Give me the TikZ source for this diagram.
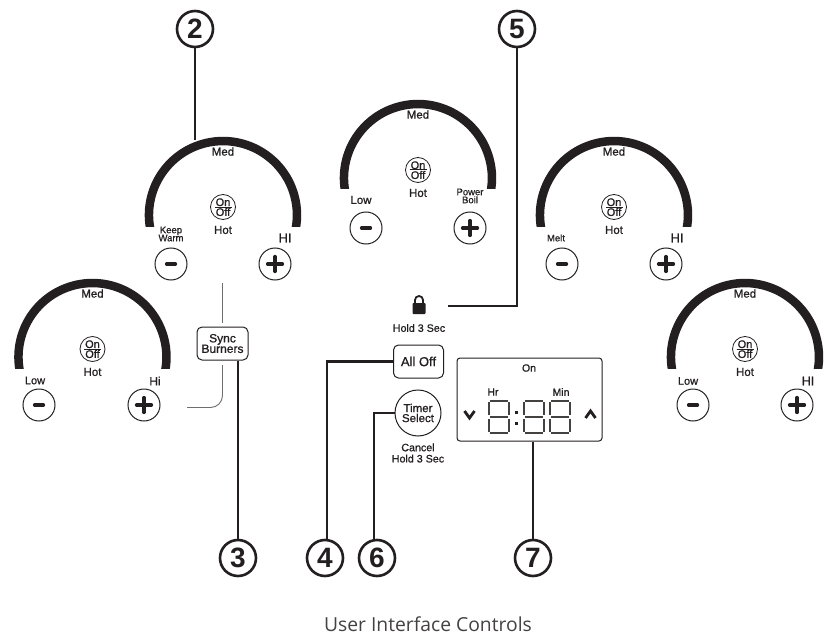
\documentclass[tikz,border=0pt]{standalone}
\usepackage{fontspec}
\setmainfont{Liberation Sans}[FakeBold=0.9]
\newfontfamily\capfont{Open Sans Light}
\newfontfamily\numfont{Liberation Sans}
\definecolor{ink}{HTML}{231F20}
\tikzset{
  x=1pt,y=-1pt,
  txt/.style={inner sep=0pt,text=ink,font=\fontsize{#1}{#1}\selectfont,align=center},
  txt/.default=10,
  callout/.style={circle,draw=ink,line width=2.6pt,minimum size=36pt,inner sep=0pt,fill=white,text=ink,font=\numfont\bfseries\fontsize{28}{28}\selectfont},
  lead/.style={draw=ink,line width=2.6pt},
  thinlead/.style={draw=ink!65,line width=0.9pt},
  knob/.style={circle,draw=ink,line width=1pt,minimum size=32pt,inner sep=0pt,fill=white},
  sbtn/.style={draw=ink,line width=1pt,rounded corners=5pt,fill=white,inner sep=0pt},
  arcline/.style={draw=ink,line width=8.5pt},
  seg/.style={draw=ink!85,line width=1.9pt},
  glyph/.style={draw=ink,line width=3.2pt,line cap=round},
}
\newcommand{\burner}[8]{%
  \begin{scope}
  \clip (#2-90,#3-90) rectangle (#2+90,#3+11);
  \draw[arcline] (#2,#3) ++(-71.5,19.2) arc[start angle=195,end angle=-15,x radius=74,y radius=-74];
  \end{scope}
  \node[txt=11.5] (#1med) at (#2,#3-63.5) {Med};
  \node[circle,draw=ink,line width=.8pt,minimum size=25pt,inner sep=0pt] (#1on) at (#2,#3-8) {};
  \node[txt=11] at ([yshift=4.8pt]#1on.center) {On};
  \node[txt=11] at ([yshift=-5pt]#1on.center) {Off};
  \draw[ink,line width=1pt] (#2-8.5,#3-8) -- (#2+8.5,#3-8);
  \node[txt=11.5] (#1hot) at (#2,#3+15) {Hot};
  \node[knob] (#1minus) at (#4,#6) {};
  \draw[glyph] (#4-4.5,#6) -- (#4+4.5,#6);
  \node[knob] (#1plus) at (#5,#6) {};
  \draw[glyph] (#5-7.5,#6) -- (#5+7.5,#6) (#5,#6-7.5) -- (#5,#6+7.5);
  #7 #8
}
\begin{document}
\begin{tikzpicture}
\useasboundingbox (0,0) rectangle (832,639);
\fill[white] (0,0) rectangle (832,639);
\node[callout] (c2) at (195,29) {2};
\node[callout] (c5) at (517,29) {5};
\node[callout] (c3) at (238,558) {3};
\node[callout] (c4) at (325,558) {4};
\node[callout] (c6) at (377,558) {6};
\node[callout] (c7) at (533,558) {7};
\coordinate (top2) at (195,140);
\draw[lead] (c2) -- (top2);
\burner{a}{92.5}{357}{39}{144}{405}{\node[txt=11] at (35,380.5) {Low};}{\node[txt=12] at (155,381) {Hi};}
\burner{b}{223}{215}{171}{275}{264}{\node[txt=9.5] at (171,234) {Keep\\[-1.5pt]Warm};}{\node[txt=13] at (285,238) {HI};}
\burner{c}{418}{178}{366}{470}{228}{\node[txt=11.5] at (361,200) {Low};}{\node[txt=9.5] at (470,196) {Power\\[-1.5pt]Boil};}
\burner{d}{614}{215}{562}{666}{264}{\node[txt=9.5] at (556,238) {Melt};}{\node[txt=13] at (677,238) {HI};}
\burner{e}{745}{357}{693}{797}{405}{\node[txt=11] at (688,381) {Low};}{\node[txt=12.5] at (808,381) {HI};}
\node[sbtn,minimum width=51pt,minimum height=33pt,txt=12] (sync) at (222.5,343.5) {Sync\\[-1.5pt]Burners};
\coordinate (s1) at (222.5,283);
\coordinate (s2) at (222.5,323);
\coordinate (s3) at (222.5,365);
\coordinate (s4) at (187,407.5);
\draw[thinlead] (s1) -- (s2);
\draw[thinlead,rounded corners=12pt] (s3) |- (s4);
\draw[lead] (sync.south -| c3) -- (c3);
\fill[ink,rounded corners=.8pt] (412.5,303) rectangle (425.5,314);
\draw[ink,line width=1.8pt] (415,303.5) -- (415,300) arc[start angle=180,end angle=0,x radius=4,y radius=-4] -- (423,303.5);
\node[txt=10.7] (hold) at (419,328) {Hold 3 Sec};
\coordinate (lk) at (448,306);
\draw[lead] (c5) |- (lk);
\node[sbtn,minimum width=50pt,minimum height=33pt,txt=13] (alloff) at (418.5,361.5) {All Off};
\coordinate (c4t) at (327,541);
\draw[lead] (alloff.west) -| (c4t);
\node[circle,draw=ink,line width=1pt,minimum size=46pt,inner sep=0pt,fill=white,txt=11.5] (timer) at (418,413) {Timer\\[-1.5pt]Select};
\node[txt=10.7] (cancel) at (418,453) {Cancel\\[.5pt]Hold 3 Sec};
\coordinate (c6t) at (374,541);
\draw[lead] (timer.west) -| (c6t);
\node[draw=ink,line width=1pt,rounded corners=3pt,minimum width=145pt,minimum height=83pt,inner sep=0pt] (disp) at (529.5,399.5) {};
\node[txt=10.5] at (529,368) {On};
\node[txt=10.5] at (493,392) {Hr};
\node[txt=10.5] at (561,392) {Min};
\draw[lead] (disp.south -| c7) -- (c7);
\draw[ink,line width=2.8pt] (464.5,411) -- (469.5,418) -- (474.5,411);
\draw[ink,line width=2.8pt] (585.5,418) -- (590.5,411) -- (595.5,418);
\foreach \dx in {488,523,549}{
  \draw[seg] (\dx+2,401) -- (\dx+20,401);
  \draw[seg] (\dx+2,417) -- (\dx+20,417);
  \draw[seg] (\dx+2,433) -- (\dx+20,433);
  \draw[seg] (\dx+.8,402) -- (\dx+.8,415);
  \draw[seg] (\dx+21.2,402) -- (\dx+21.2,415);
  \draw[seg] (\dx+.8,419) -- (\dx+.8,432);
  \draw[seg] (\dx+21.2,419) -- (\dx+21.2,432);
}
\fill[ink] (514.5,410.5) rectangle +(3.5,3.5);
\fill[ink] (514.5,421.5) rectangle +(3.5,3.5);
\node[inner sep=0pt,text=ink!85,font=\fontspec{Open Sans}\fontsize{19.3}{19.3}\selectfont] (cap) at (428,624) {User Interface Controls};
\end{tikzpicture}
\end{document}
